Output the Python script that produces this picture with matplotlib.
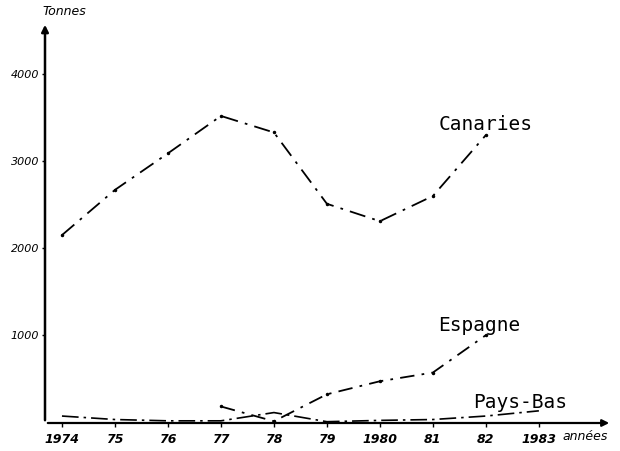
import matplotlib
matplotlib.use('Agg')
import matplotlib.pyplot as plt

# data (tonnes per year)
years = [1974, 1975, 1976, 1977, 1978, 1979, 1980, 1981, 1982, 1983]
year_labels = ['1974', '75', '76', '77', '78', '79', '1980', '81', '82', '1983']

canaries_years = [1974, 1975, 1976, 1977, 1978, 1979, 1980, 1981, 1982]
canaries = [2150, 2670, 3090, 3520, 3330, 2510, 2310, 2600, 3300]

espagne_years = [1977, 1978, 1979, 1980, 1981, 1982]
espagne = [180, 10, 320, 470, 570, 1000]

paysbas_years = years
paysbas = [70, 30, 15, 15, 110, 5, 20, 30, 70, 130]

y_ticks = [1000, 2000, 3000, 4000]
y_labels = ['1000', '2000', '3000', '4000']

fig = plt.figure(figsize=(6.2, 4.51), dpi=100)
ax = fig.add_axes([45 / 620, (451 - 423) / 451, (612 - 45) / 620, (423 - 22) / 451])
ax.set_xlim(1973.68, 1984.38)
ax.set_ylim(-10, 4600)
for s in ax.spines.values():
    s.set_visible(False)

# hand drawn axes with arrow heads
ax.annotate('', xy=(1, 0), xytext=(0, 0), xycoords='axes fraction',
            arrowprops=dict(arrowstyle='-|>', lw=1.6, color='black', mutation_scale=10))
ax.annotate('', xy=(0, 1), xytext=(0, 0), xycoords='axes fraction',
            arrowprops=dict(arrowstyle='-|>', lw=1.8, color='black', mutation_scale=10))

ax.plot(canaries_years, canaries, color='black', lw=1.3, dashes=(9, 4, 1.5, 4))
ax.plot(canaries_years, canaries, 'k.', ms=3)
ax.plot(espagne_years, espagne, color='black', lw=1.3, dashes=(8, 4, 1.5, 4))
ax.plot(espagne_years, espagne, 'k.', ms=3)
ax.plot(paysbas_years, paysbas, color='black', lw=1.2, dashes=(10, 3, 1.5, 3))

ax.set_xticks(years)
ax.set_xticklabels(year_labels, fontsize=9, fontstyle='italic', fontweight='bold')
ax.set_yticks(y_ticks)
ax.set_yticklabels(y_labels, fontsize=8, fontstyle='italic')
ax.tick_params(axis='x', length=3, width=1, pad=4)
ax.tick_params(axis='y', length=2, width=1, pad=2)

ax.text(1983.45, -170, 'années', fontsize=9, fontstyle='italic', va='center', ha='left')
ax.text(-0.005, 1.01, 'Tonnes', transform=ax.transAxes, fontsize=9,
        fontstyle='italic', ha='left', va='bottom')

mono = 'DejaVu Sans Mono'
ax.text(1981.1, 3420, 'Canaries', family=mono, fontsize=14, va='center')
ax.text(1981.1, 1110, 'Espagne', family=mono, fontsize=14, va='center')
ax.text(1981.75, 220, 'Pays-Bas', family=mono, fontsize=14, va='center')

fig.savefig('out.png', dpi=100)
